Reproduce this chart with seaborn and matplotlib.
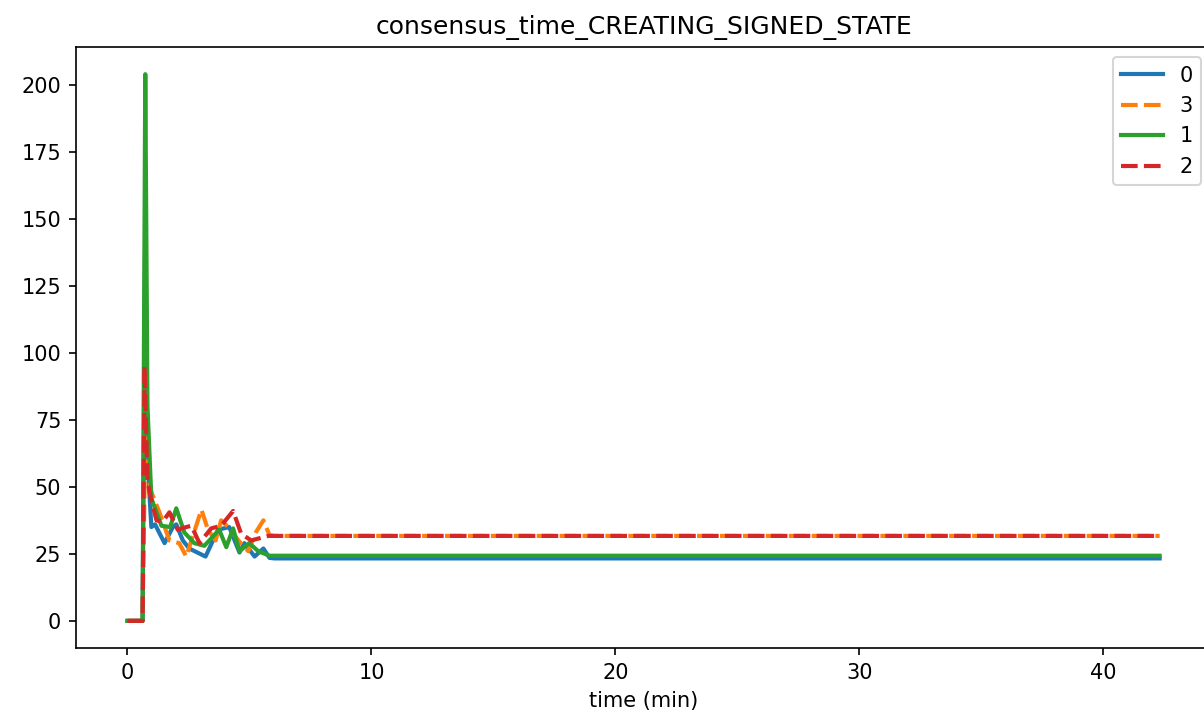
import pandas as pd
from matplotlib import pyplot as plt
import seaborn as sns

# values (time in minutes)
t_end = 42.3

time_0 = [0, 0.31, 0.62, 0.73, 0.82, 0.98, 1.13, 1.52, 1.86, 2.0, 2.27, 2.53, 3.2, 3.71, 4.17, 4.59, 4.79, 5.21, 5.57, 5.82, 6.03, t_end]
vals_0 = [0, 0, 0, 150, 60, 35, 36, 29, 35, 36, 30, 27, 24, 34, 35, 25.5, 29, 24, 27, 23.5, 23.3, 23.3]

time_3 = [0, 0.31, 0.62, 0.73, 0.82, 0.98, 1.31, 1.72, 2.12, 2.41, 3.03, 3.3, 3.61, 3.84, 4.07, 4.64, 4.95, 5.26, 5.57, 5.82, 6.03, t_end]
vals_3 = [0, 0, 0, 70, 55, 48, 40.5, 30, 29, 24, 41.5, 34, 30, 37.5, 35.5, 29, 26, 33, 37.5, 32, 31.7, 31.7]

time_1 = [0, 0.31, 0.62, 0.73, 0.82, 0.98, 1.39, 1.75, 2.0, 2.33, 2.74, 3.15, 3.76, 4.05, 4.33, 4.59, 4.99, 5.36, 5.82, 6.03, t_end]
vals_1 = [0, 0, 0, 204, 80, 45.7, 35.5, 35, 42, 33, 29, 28, 34, 27.5, 34.5, 26, 29, 26, 24.3, 24.3, 24.3]

time_2 = [0, 0.31, 0.62, 0.70, 0.82, 0.98, 1.19, 1.44, 1.72, 2.06, 2.41, 2.62, 2.95, 3.43, 3.84, 4.33, 4.66, 5.07, 5.48, 5.77, 6.03, t_end]
vals_2 = [0, 0, 0, 95, 52, 45, 37.5, 37, 40.5, 34, 35, 35.5, 29, 34.5, 35.5, 41, 32.5, 30, 31, 31.7, 31.7, 31.7]

nodes = ['0', '3', '1', '2']

frames = []
for node, t, v in zip(nodes, [time_0, time_3, time_1, time_2], [vals_0, vals_3, vals_1, vals_2]):
    frames.append(pd.DataFrame({'time (min)': t, 'value': v, 'node': node}))
df = pd.concat(frames, ignore_index=True)

fig, ax = plt.subplots(figsize=(1204 / 150, 721 / 150), dpi=150)
sns.lineplot(data=df, x='time (min)', y='value', hue='node', style='node',
             hue_order=nodes, style_order=nodes,
             palette=['#1f77b4', '#ff7f0e', '#2ca02c', '#d62728'],
             dashes={'0': '', '3': (4, 1.5), '1': '', '2': (4, 1.5)},
             estimator=None, sort=False, linewidth=2, ax=ax)
ax.set_ylabel('')
ax.set_title('consensus_time_CREATING_SIGNED_STATE')
ax.legend(loc='upper right')
# the reference is cropped on the right, the right spine falls outside it
plt.subplots_adjust(left=0.063, right=1.006, top=0.935, bottom=0.101)
plt.savefig('out.png', dpi=150)
